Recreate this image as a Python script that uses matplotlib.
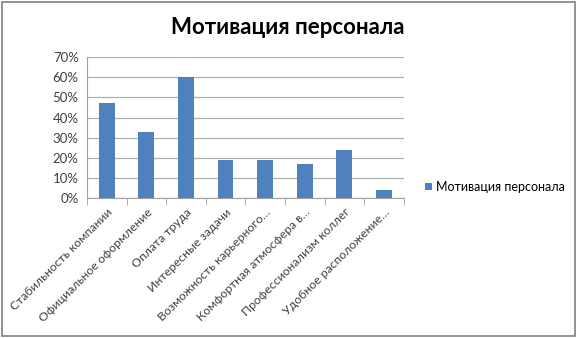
import matplotlib.pyplot as plt
import numpy as np
from matplotlib.patches import Rectangle

plt.rcParams['font.family'] = ['Lato', 'DejaVu Sans']

categories = ["Стабильность компании", "Официальное оформление", "Оплата труда",
              "Интересные задачи", "Возможность карьерного…", "Комфортная атмосфера в…",
              "Профессионализм коллег", "Удобное расположение…"]
values = [0.47, 0.33, 0.60, 0.19, 0.19, 0.17, 0.24, 0.04]
series_name = "Мотивация персонала"

fig = plt.figure(figsize=(5.78, 3.38), dpi=100)
ax = fig.add_axes([0.1505, 0.414, 0.548, 0.417])

x = np.arange(len(categories))
ax.bar(x, values, width=0.4, color="#4F81BD", label=series_name, zorder=3)

ax.set_xlim(-0.5, len(categories) - 0.5)
ax.set_ylim(0, 0.7)
ax.set_yticks(np.arange(0, 0.71, 0.1))
ax.set_yticklabels([f"{int(round(v * 100))}%" for v in np.arange(0, 0.71, 0.1)], fontsize=9.5, color="#404040")
ax.yaxis.grid(True, color="#B0B0B0", linewidth=0.9, zorder=0)
ax.tick_params(axis='y', length=0, pad=6)

ax.set_xticks(x)
ax.set_xticklabels(categories, rotation=45, ha='right', rotation_mode='anchor', fontsize=8.8, color="#404040")
ax.tick_params(axis='x', length=0, pad=6)
ax.set_xticks(np.arange(-0.5, len(categories), 1), minor=True)
ax.tick_params(axis='x', which='minor', length=5, color="#A0A0A0", direction='out')

for s in ['top', 'right']:
    ax.spines[s].set_visible(False)
ax.spines['left'].set_color("#A0A0A0")
ax.spines['bottom'].set_color("#A0A0A0")

fig.text(0.498, 0.92, "Мотивация персонала", ha='center', va='center', fontsize=16, fontweight='bold')

handles, labels = ax.get_legend_handles_labels()
fig.legend(handles, labels, loc='center left', bbox_to_anchor=(0.735, 0.447), frameon=False,
           fontsize=9, handlelength=0.6, handleheight=0.6, handletextpad=0.3,
           borderpad=0, borderaxespad=0)

fig.patches.append(Rectangle((0.003, 0.006), 0.992, 0.988, transform=fig.transFigure,
                             fill=False, edgecolor="#808080", linewidth=1.2))

fig.savefig("out.png", dpi=100)
